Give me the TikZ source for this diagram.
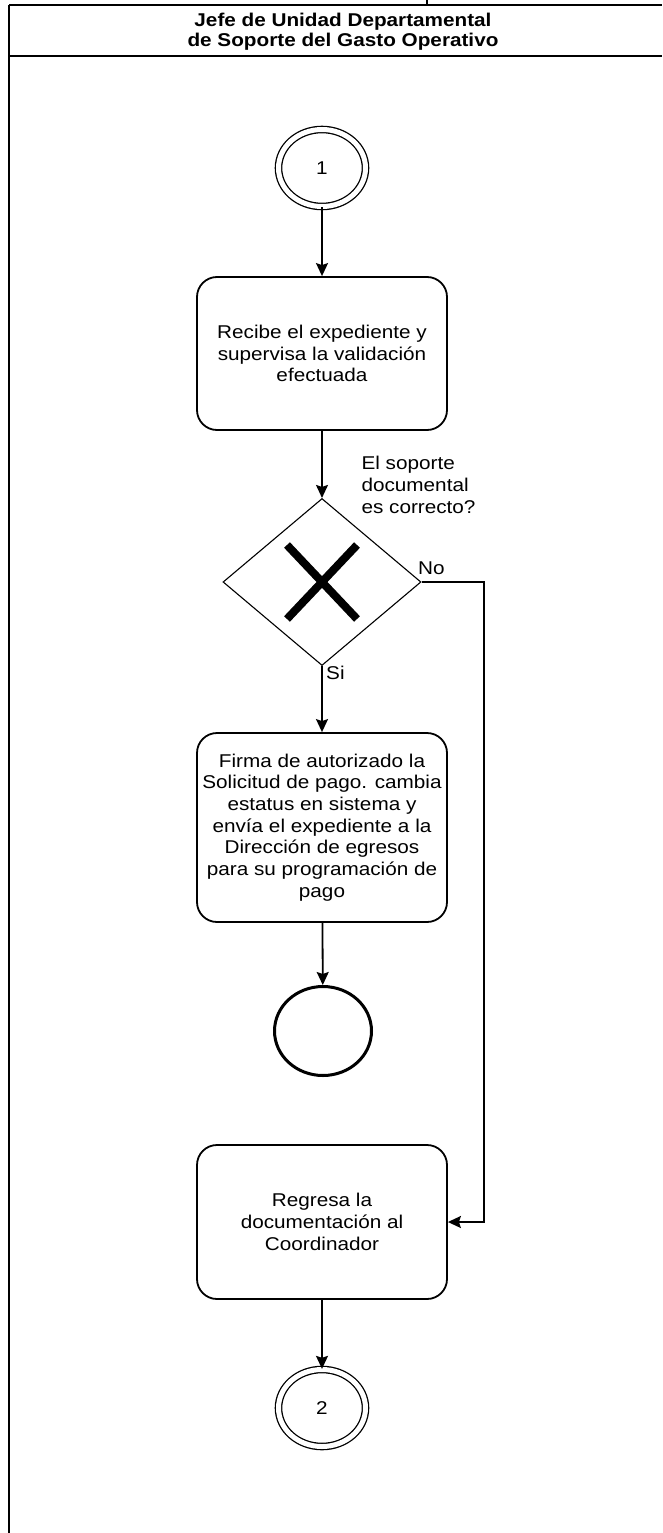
\documentclass[tikz,border=0pt]{standalone}
\usepackage{fontspec}
\setmainfont{Liberation Sans}[FakeStretch=1.12]
\usetikzlibrary{shapes.geometric,arrows.meta,calc}
\tikzset{
  txt/.style={font=\fontsize{18.5}{21.7}\selectfont, align=center},
  task/.style={draw, line width=1.8pt, rounded corners=20pt, minimum width=250pt, inner sep=0pt, txt},
  gate/.style={draw, diamond, line width=1.1pt, minimum width=198pt, minimum height=167pt, inner sep=0pt},
  link/.style={ellipse, draw, double, double distance=5pt, line width=1.3pt, minimum width=87pt, minimum height=77pt, inner sep=0pt, txt},
  endev/.style={ellipse, draw, line width=3pt, minimum width=97pt, minimum height=89pt, inner sep=0pt},
  flow/.style={line width=1.8pt, -{Stealth[length=13pt,width=12pt,inset=2pt]}},
  xmark/.style={line width=8pt},
  lane/.style={line width=1.2pt},
}
\begin{document}
\begin{tikzpicture}[x=1pt,y=-1pt]
\useasboundingbox (0,0) rectangle (662,1533);
% lane frame
\draw[lane] (9,5) -- (662,5);
\draw[lane] (9,56) -- (662,56);
\draw[lane] (9,5) -- (9,1533);
\draw[lane] (427,0) -- (427,5);
\node[font=\bfseries\fontsize{18.5}{20}\selectfont, align=center] (hdr) at (343,32) {Jefe de Unidad Departamental\\de Soporte del Gasto Operativo};

% nodes
\node[link] (c1) at (322,168) {1};
\node[task, minimum height=153pt] (b1) at (322,353.5) {Recibe el expediente y\\supervisa la validación\\efectuada};
\node[gate] (d1) at (322,582) {};
\draw[xmark] ([shift={(-35,-37)}]d1.center) -- ([shift={(35,37)}]d1.center);
\draw[xmark] ([shift={(35,-37)}]d1.center) -- ([shift={(-35,37)}]d1.center);
\node[txt, align=left, anchor=west] (q) at (358,485) {El soporte\\documental\\es correcto?};
\node[task, minimum height=189pt] (b2) at (322,827.5) {Firma de autorizado la\\Solicitud de pago. cambia\\estatus en sistema y\\envía el expediente a la\\Dirección de egresos\\para su programación de\\pago};
\node[endev] (e1) at (323,1031) {};
\node[task, minimum height=154pt] (b3) at (322,1222) {Regresa la\\documentación al\\Coordinador};
\node[link] (c2) at (322,1408) {2};
\coordinate (nr) at (484,582);

% labels
\node[txt, anchor=west, inner sep=0pt] (no) at (418,568) {No};
\node[txt, anchor=west, inner sep=0pt] (si) at (326,673) {Si};

% connectors
\draw[flow] (c1) -- (b1);
\draw[flow] (b1) -- (d1.north);
\draw[flow] (d1.south) -- (b2);
\draw[flow] (b2) -- (e1);
\draw[flow] (d1.east) -- (nr) |- (b3.east);
\draw[flow] (b3) -- (c2);
\end{tikzpicture}
\end{document}
